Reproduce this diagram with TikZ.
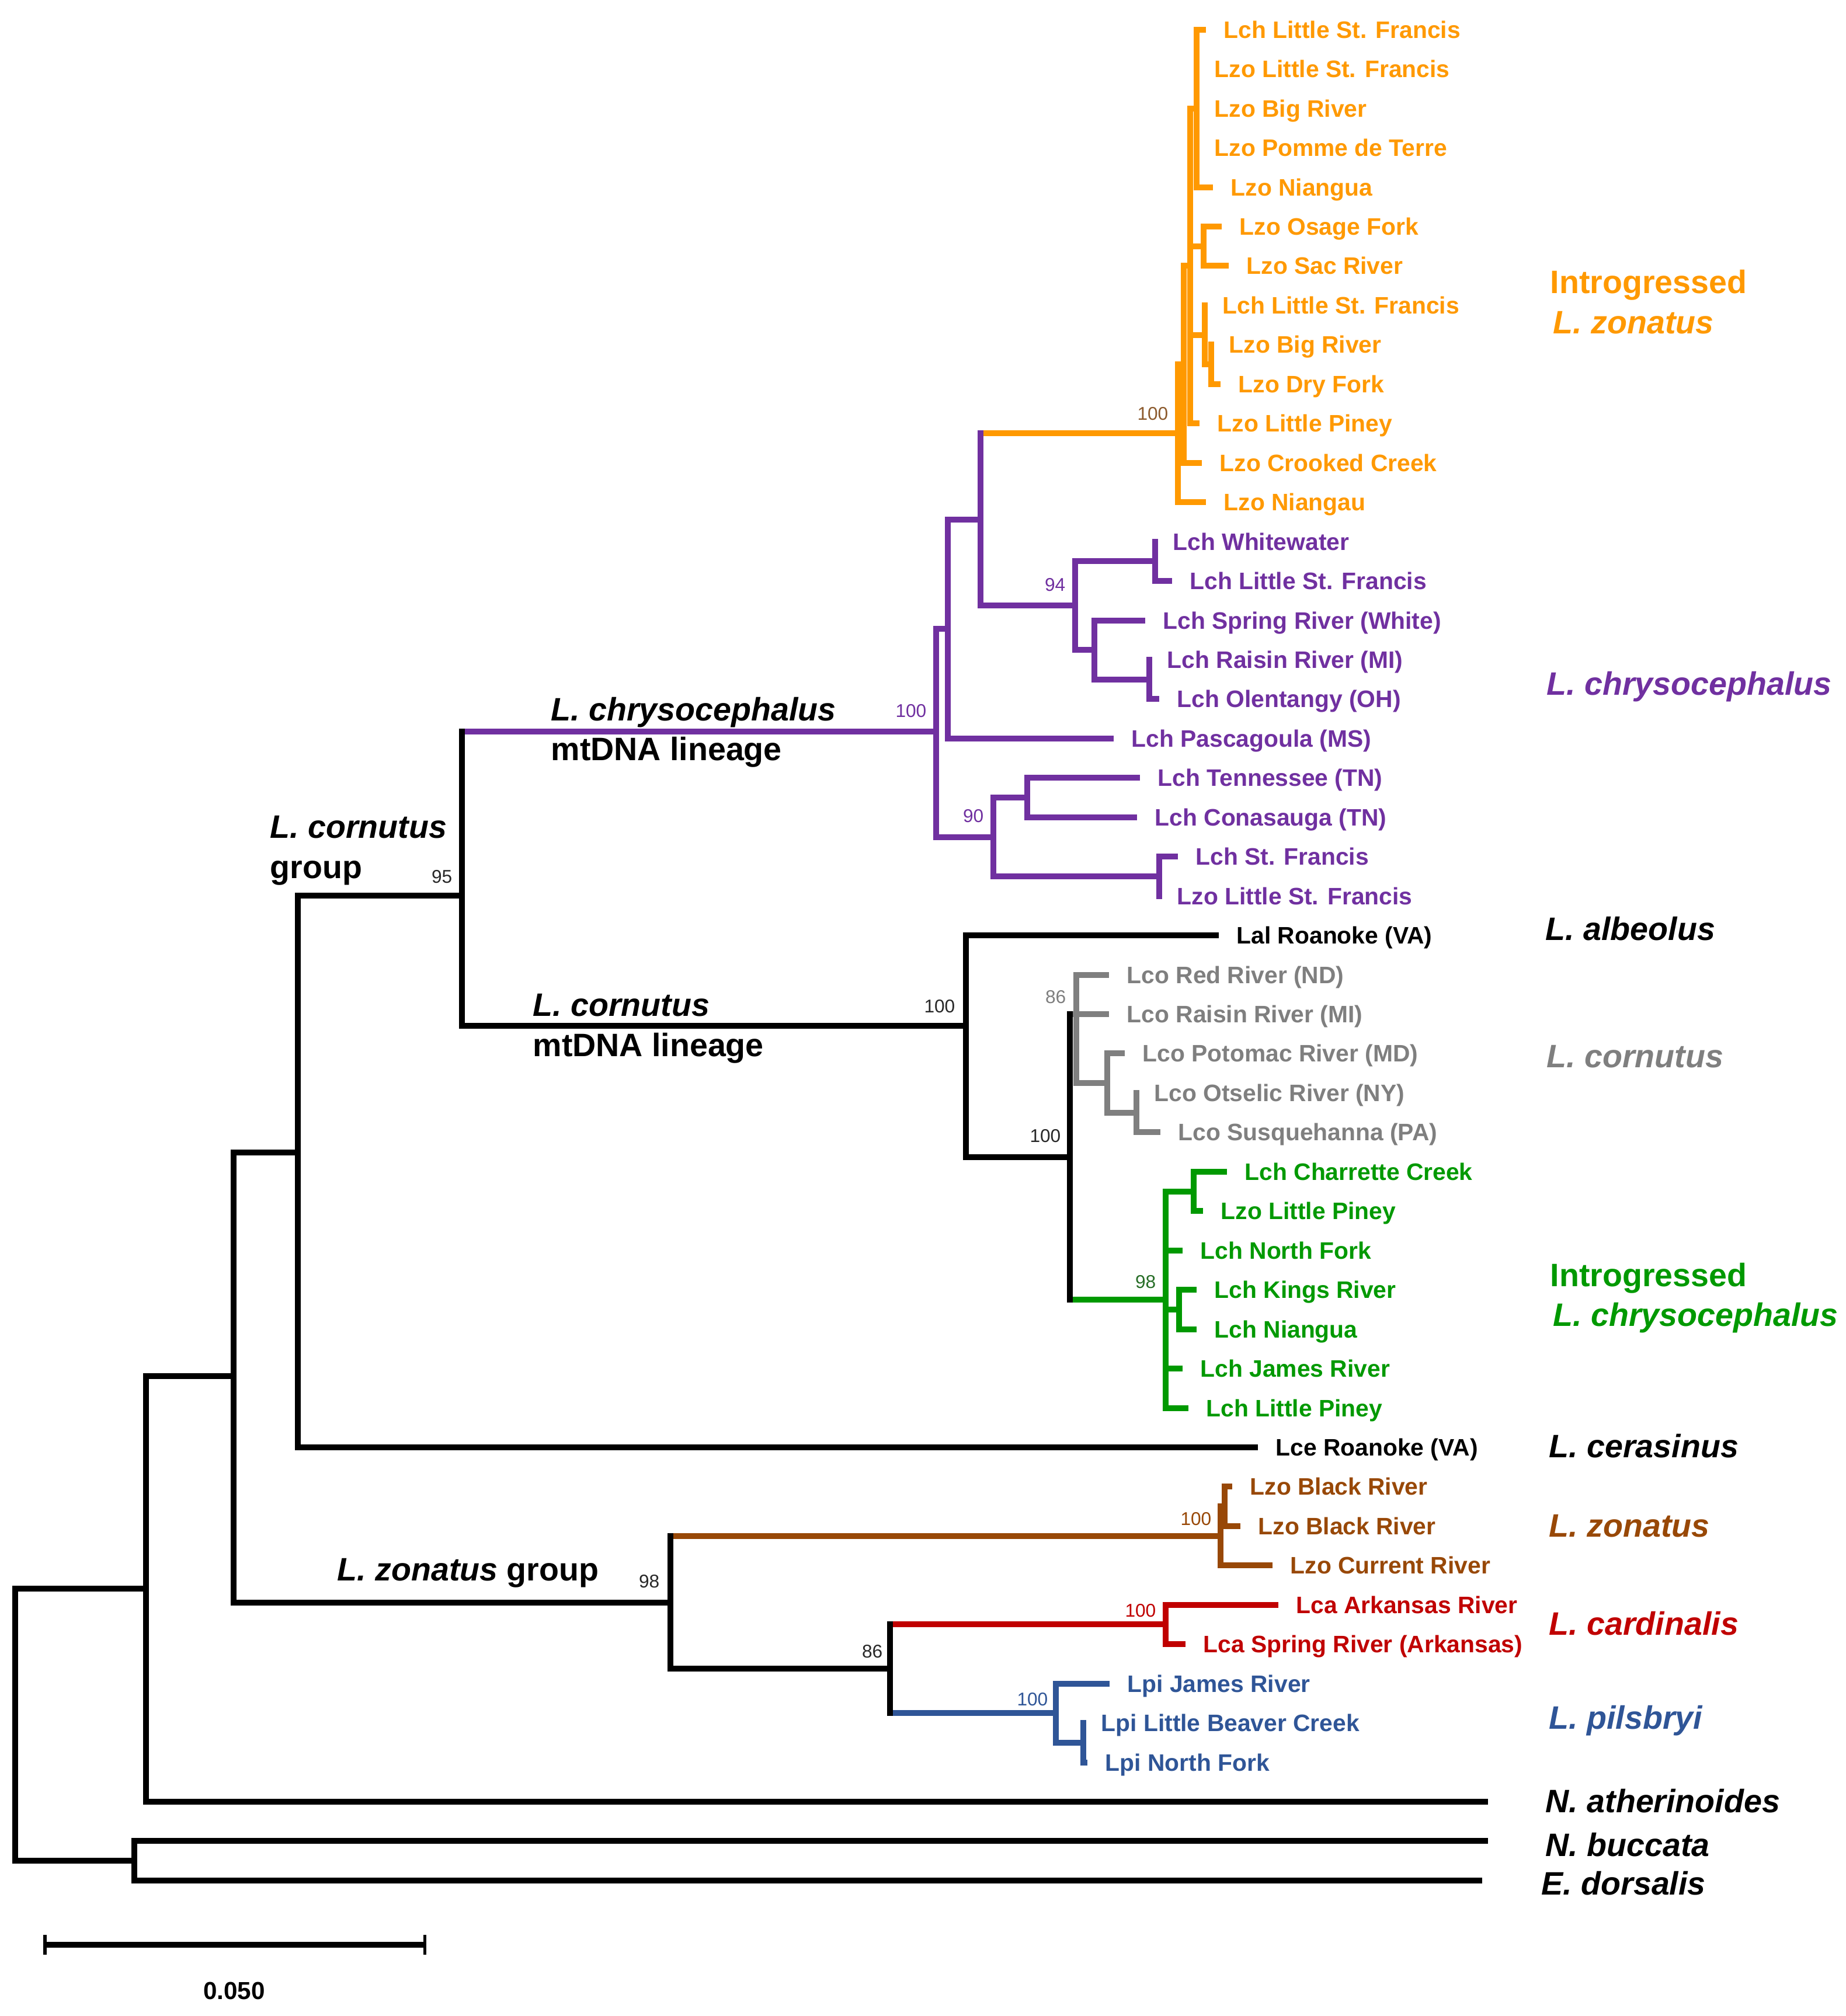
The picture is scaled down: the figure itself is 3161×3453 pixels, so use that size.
\documentclass[tikz,border=0pt]{standalone}
\usepackage{fontspec}
\setmainfont{Liberation Sans}
\definecolor{cOr}{HTML}{FF9900}
\definecolor{cPu}{HTML}{7030A0}
\definecolor{cGy}{HTML}{7F7F7F}
\definecolor{cGn}{HTML}{009900}
\definecolor{cBr}{HTML}{984807}
\definecolor{cRd}{HTML}{C00000}
\definecolor{cBl}{HTML}{2F5597}
\definecolor{cOrSup}{RGB}{140,90,45}
\definecolor{cSup}{RGB}{40,40,40}
\definecolor{cGnSup}{RGB}{40,110,40}
\newcommand\tipfont{\fontsize{11.6}{13}\selectfont\bfseries}
\newcommand\bigfont{\fontsize{15.8}{19}\selectfont\bfseries}
\newcommand\supfont{\fontsize{9}{10}\selectfont}
\newcommand\stem[3]{\draw[hbranch,#1] (#2 |- #3) -- (#3);}
\newcommand\vbar[4]{\draw[vbranch,#1] (#2 |- #3) -- (#2 |- #4);}
\begin{document}
\begin{tikzpicture}[x=0.01cm,y=-0.01cm,
  hbranch/.style={line width=1mm},
  vbranch/.style={line width=1mm,line cap=rect},
  tiplab/.style={anchor=base west,inner sep=0pt,font=\tipfont},
  biglab/.style={anchor=base west,inner sep=0pt,font=\bigfont},
  suplab/.style={anchor=east,inner sep=0pt,font=\supfont}]
\fill[white] (0,0) rectangle (3161,3453);
% ---------- orange clade ----------
\coordinate (O) at (2017,742);
\coordinate (O1) at (2027,624);
\coordinate (O2) at (2038,455.4);
\coordinate (A1) at (2049,185.6);
\coordinate (B1) at (2061,421.7);
\coordinate (C1) at (2063,573.5);
\coordinate (C2) at (2074,624);
\coordinate (t0) at (2065,50.7);
\coordinate (t1) at (2049,118.2);
\coordinate (t2) at (2049,185.6);
\coordinate (t3) at (2049,253.1);
\coordinate (t4) at (2077,320.5);
\coordinate (t5) at (2092,388.0);
\coordinate (t6) at (2104,455.4);
\coordinate (t7) at (2063,522.9);
\coordinate (t8) at (2074,590.3);
\coordinate (t9) at (2090,657.8);
\coordinate (t10) at (2054,725.2);
\coordinate (t11) at (2058,792.7);
\coordinate (t12) at (2065,860.1);
% ---------- purple clade ----------
\coordinate (P) at (1603,1253);
\coordinate (P1) at (1623,1077.2);
\coordinate (Q) at (1679,889.6);
\coordinate (N94) at (1841,1037.2);
\coordinate (W) at (1978,961.3);
\coordinate (SR) at (1874,1113.1);
\coordinate (RO) at (1968,1163.7);
\coordinate (P90) at (1701,1433.5);
\coordinate (TC) at (1759,1366);
\coordinate (SF) at (1985,1500.9);
\coordinate (t13) at (1978,927.6);
\coordinate (t14) at (2007,995.0);
\coordinate (t15) at (1961,1062.5);
\coordinate (t16) at (1968,1129.9);
\coordinate (t17) at (1985,1197.4);
\coordinate (t18) at (1907,1264.8);
\coordinate (t19) at (1952,1332.3);
\coordinate (t20) at (1947,1399.7);
\coordinate (t21) at (2017,1467.2);
\coordinate (t22) at (1985,1534.6);
% ---------- cornutus lineage ----------
\coordinate (E) at (791,1534);
\coordinate (K) at (1654,1757);
\coordinate (N100) at (1832,1981.5);
\coordinate (G86) at (1843,1737);
\coordinate (G2) at (1896,1855);
\coordinate (OS) at (1946,1905.6);
\coordinate (GR) at (1996,2226);
\coordinate (CL) at (2044,2040.5);
\coordinate (KN) at (2019,2242.9);
\coordinate (t23) at (2087,1602.1);
\coordinate (t24) at (1899,1669.5);
\coordinate (t25) at (1899,1737.0);
\coordinate (t26) at (1926,1804.4);
\coordinate (t27) at (1946,1871.9);
\coordinate (t28) at (1987,1939.3);
\coordinate (t29) at (2101,2006.8);
\coordinate (t30) at (2060,2074.2);
\coordinate (t31) at (2025,2141.7);
\coordinate (t32) at (2049,2209.1);
\coordinate (t33) at (2049,2276.6);
\coordinate (t34) at (2025,2344.0);
\coordinate (t35) at (2035,2411.5);
% ---------- backbone and zonatus group ----------
\coordinate (Root) at (26,2954);
\coordinate (A) at (250,2721);
\coordinate (B) at (230,3187);
\coordinate (C) at (400,2357);
\coordinate (D) at (510,1974);
\coordinate (Z) at (1148,2744.5);
\coordinate (BR) at (2090,2630.8);
\coordinate (BB) at (2097,2580.1);
\coordinate (Z86) at (1524,2858.3);
\coordinate (RD) at (1996,2782.4);
\coordinate (BL) at (1808,2934.2);
\coordinate (LN) at (1855,2984.8);
\coordinate (t36) at (2154,2478.9);
\coordinate (t37) at (2110,2546.4);
\coordinate (t38) at (2124,2613.8);
\coordinate (t39) at (2179,2681.3);
\coordinate (t40) at (2189,2748.7);
\coordinate (t41) at (2030,2816.2);
\coordinate (t42) at (1900,2883.6);
\coordinate (t43) at (1855,2951.1);
\coordinate (t44) at (1862,3018.5);
\coordinate (t45) at (2548,3086.0);
\coordinate (t46) at (2548,3153.4);
\coordinate (t47) at (2538,3220.9);
% ================= horizontal branches =================
\stem{cOr}{Q}{O}
\stem{cOr}{O}{O1} \stem{cOr}{O}{t12}
\stem{cOr}{O1}{O2} \stem{cOr}{O1}{t11}
\stem{cOr}{O2}{A1} \stem{cOr}{O2}{B1} \stem{cOr}{O2}{C1} \stem{cOr}{O2}{t10}
\stem{cOr}{A1}{t0} \stem{cOr}{A1}{t4}
\stem{cOr}{B1}{t5} \stem{cOr}{B1}{t6}
\stem{cOr}{C1}{C2} \stem{cOr}{C2}{t9}
\stem{cPu}{E}{P}
\stem{cPu}{P}{P1} \stem{cPu}{P}{P90}
\stem{cPu}{P1}{Q} \stem{cPu}{P1}{t18}
\stem{cPu}{Q}{N94}
\stem{cPu}{N94}{W} \stem{cPu}{N94}{SR}
\stem{cPu}{W}{t14}
\stem{cPu}{SR}{t15} \stem{cPu}{SR}{RO} \stem{cPu}{RO}{t17}
\stem{cPu}{P90}{TC} \stem{cPu}{P90}{SF}
\stem{cPu}{TC}{t19} \stem{cPu}{TC}{t20}
\stem{cPu}{SF}{t21}
\stem{black}{E}{K}
\stem{black}{K}{t23} \stem{black}{K}{N100}
\stem{cGy}{N100}{G86} \stem{cGn}{N100}{GR}
\stem{cGy}{G86}{t24} \stem{cGy}{G86}{t25} \stem{cGy}{G86}{G2}
\stem{cGy}{G2}{t26} \stem{cGy}{G2}{OS} \stem{cGy}{OS}{t28}
\stem{cGn}{GR}{CL} \stem{cGn}{GR}{t31} \stem{cGn}{GR}{KN}
\stem{cGn}{GR}{t34} \stem{cGn}{GR}{t35}
\stem{cGn}{CL}{t29} \stem{cGn}{CL}{t30}
\stem{cGn}{KN}{t32} \stem{cGn}{KN}{t33}
\stem{black}{D}{E} \stem{black}{D}{t36}
\stem{black}{C}{D} \stem{black}{C}{Z}
\stem{black}{A}{C} \stem{black}{A}{t45}
\stem{black}{Root}{A} \stem{black}{Root}{B}
\stem{black}{B}{t46} \stem{black}{B}{t47}
\stem{cBr}{Z}{BR}
\stem{cBr}{BR}{BB} \stem{cBr}{BR}{t39}
\stem{cBr}{BB}{t37} \stem{cBr}{BB}{t38}
\stem{black}{Z}{Z86}
\stem{cRd}{Z86}{RD} \stem{cRd}{RD}{t40} \stem{cRd}{RD}{t41}
\stem{cBl}{Z86}{BL} \stem{cBl}{BL}{t42} \stem{cBl}{BL}{LN} \stem{cBl}{LN}{t44}
% ================= vertical branches =================
\vbar{cOr}{O}{O1}{t12}
\vbar{cOr}{O1}{O2}{t11}
\vbar{cOr}{O2}{A1}{t10}
\vbar{cOr}{A1}{t0}{t4}
\vbar{cOr}{B1}{t5}{t6}
\vbar{cOr}{C1}{t7}{C2}
\vbar{cOr}{C2}{t8}{t9}
\vbar{cPu}{P}{P1}{P90}
\vbar{cPu}{P1}{Q}{t18}
\vbar{cPu}{Q}{O}{N94}
\vbar{cPu}{N94}{W}{SR}
\vbar{cPu}{W}{t13}{t14}
\vbar{cPu}{SR}{t15}{RO}
\vbar{cPu}{RO}{t16}{t17}
\vbar{cPu}{P90}{TC}{SF}
\vbar{cPu}{TC}{t19}{t20}
\vbar{cPu}{SF}{t21}{t22}
\vbar{cGy}{G86}{t24}{G2}
\vbar{cGy}{G2}{t26}{OS}
\vbar{cGy}{OS}{t27}{t28}
\vbar{black}{N100}{G86}{GR}
\vbar{black}{K}{t23}{N100}
\vbar{black}{E}{P}{K}
\vbar{cGn}{GR}{CL}{t35}
\vbar{cGn}{CL}{t29}{t30}
\vbar{cGn}{KN}{t32}{t33}
\vbar{black}{D}{E}{t36}
\vbar{black}{C}{D}{Z}
\vbar{black}{A}{C}{t45}
\vbar{black}{Root}{A}{B}
\vbar{black}{B}{t46}{t47}
\vbar{black}{Z}{BR}{Z86}
\vbar{cBr}{BR}{BB}{t39}
\vbar{cBr}{BB}{t37}{t38}
\vbar{black}{Z86}{RD}{BL}
\vbar{cRd}{RD}{t40}{t41}
\vbar{cBl}{BL}{t42}{LN}
\vbar{cBl}{LN}{t43}{t44}
% ================= tip labels =================
\begin{scope}[cOr]
\node[tiplab] (l0) at ([shift={(30,14.5)}]t0) {Lch Little St. Francis};
\node[tiplab] (l1) at ([shift={(30,14.5)}]t1) {Lzo Little St. Francis};
\node[tiplab] (l2) at ([shift={(30,14.5)}]t2) {Lzo Big River};
\node[tiplab] (l3) at ([shift={(30,14.5)}]t3) {Lzo Pomme de Terre};
\node[tiplab] (l4) at ([shift={(30,14.5)}]t4) {Lzo Niangua};
\node[tiplab] (l5) at ([shift={(30,14.5)}]t5) {Lzo Osage Fork};
\node[tiplab] (l6) at ([shift={(30,14.5)}]t6) {Lzo Sac River};
\node[tiplab] (l7) at ([shift={(30,14.5)}]t7) {Lch Little St. Francis};
\node[tiplab] (l8) at ([shift={(30,14.5)}]t8) {Lzo Big River};
\node[tiplab] (l9) at ([shift={(30,14.5)}]t9) {Lzo Dry Fork};
\node[tiplab] (l10) at ([shift={(30,14.5)}]t10) {Lzo Little Piney};
\node[tiplab] (l11) at ([shift={(30,14.5)}]t11) {Lzo Crooked Creek};
\node[tiplab] (l12) at ([shift={(30,14.5)}]t12) {Lzo Niangau};
\end{scope}
\begin{scope}[cPu]
\node[tiplab] (l13) at ([shift={(30,14.5)}]t13) {Lch Whitewater};
\node[tiplab] (l14) at ([shift={(30,14.5)}]t14) {Lch Little St. Francis};
\node[tiplab] (l15) at ([shift={(30,14.5)}]t15) {Lch Spring River (White)};
\node[tiplab] (l16) at ([shift={(30,14.5)}]t16) {Lch Raisin River (MI)};
\node[tiplab] (l17) at ([shift={(30,14.5)}]t17) {Lch Olentangy (OH)};
\node[tiplab] (l18) at ([shift={(30,14.5)}]t18) {Lch Pascagoula (MS)};
\node[tiplab] (l19) at ([shift={(30,14.5)}]t19) {Lch Tennessee (TN)};
\node[tiplab] (l20) at ([shift={(30,14.5)}]t20) {Lch Conasauga (TN)};
\node[tiplab] (l21) at ([shift={(30,14.5)}]t21) {Lch St. Francis};
\node[tiplab] (l22) at ([shift={(30,14.5)}]t22) {Lzo Little St. Francis};
\end{scope}
\node[tiplab] (l23) at ([shift={(30,14.5)}]t23) {Lal Roanoke (VA)};
\begin{scope}[cGy]
\node[tiplab] (l24) at ([shift={(30,14.5)}]t24) {Lco Red River (ND)};
\node[tiplab] (l25) at ([shift={(30,14.5)}]t25) {Lco Raisin River (MI)};
\node[tiplab] (l26) at ([shift={(30,14.5)}]t26) {Lco Potomac River (MD)};
\node[tiplab] (l27) at ([shift={(30,14.5)}]t27) {Lco Otselic River (NY)};
\node[tiplab] (l28) at ([shift={(30,14.5)}]t28) {Lco Susquehanna (PA)};
\end{scope}
\begin{scope}[cGn]
\node[tiplab] (l29) at ([shift={(30,14.5)}]t29) {Lch Charrette Creek};
\node[tiplab] (l30) at ([shift={(30,14.5)}]t30) {Lzo Little Piney};
\node[tiplab] (l31) at ([shift={(30,14.5)}]t31) {Lch North Fork};
\node[tiplab] (l32) at ([shift={(30,14.5)}]t32) {Lch Kings River};
\node[tiplab] (l33) at ([shift={(30,14.5)}]t33) {Lch Niangua};
\node[tiplab] (l34) at ([shift={(30,14.5)}]t34) {Lch James River};
\node[tiplab] (l35) at ([shift={(30,14.5)}]t35) {Lch Little Piney};
\end{scope}
\node[tiplab] (l36) at ([shift={(30,14.5)}]t36) {Lce Roanoke (VA)};
\begin{scope}[cBr]
\node[tiplab] (l37) at ([shift={(30,14.5)}]t37) {Lzo Black River};
\node[tiplab] (l38) at ([shift={(30,14.5)}]t38) {Lzo Black River};
\node[tiplab] (l39) at ([shift={(30,14.5)}]t39) {Lzo Current River};
\end{scope}
\begin{scope}[cRd]
\node[tiplab] (l40) at ([shift={(30,14.5)}]t40) {Lca Arkansas River};
\node[tiplab] (l41) at ([shift={(30,14.5)}]t41) {Lca Spring River (Arkansas)};
\end{scope}
\begin{scope}[cBl]
\node[tiplab] (l42) at ([shift={(30,14.5)}]t42) {Lpi James River};
\node[tiplab] (l43) at ([shift={(30,14.5)}]t43) {Lpi Little Beaver Creek};
\node[tiplab] (l44) at ([shift={(30,14.5)}]t44) {Lpi North Fork};
\end{scope}
% ================= support values =================
\node[suplab,cOrSup] (s1) at (2001,709) {100};
\node[suplab,cPu] (s2) at (1825,1002) {94};
\node[suplab,cPu] (s3) at (1587,1218) {100};
\node[suplab,cPu] (s4) at (1685,1398) {90};
\node[suplab,cSup] (s5) at (775,1502) {95};
\node[suplab,cSup] (s6) at (1636,1724) {100};
\node[suplab,cGy] (s7) at (1826,1708) {86};
\node[suplab,cSup] (s8) at (1817,1946) {100};
\node[suplab,cGnSup] (s9) at (1980,2196) {98};
\node[suplab,cBr] (s10) at (2075,2602) {100};
\node[suplab,cSup] (s11) at (1130,2709) {98};
\node[suplab,cRd] (s12) at (1980,2759) {100};
\node[suplab,cSup] (s13) at (1512,2829) {86};
\node[suplab,cBl] (s14) at (1795,2911) {100};
% ================= lineage labels =================
\node[biglab] (g1a) at (943,1234) {\textit{L. chrysocephalus}};
\node[biglab] (g1b) at (943,1302) {mtDNA lineage};
\node[biglab] (g2a) at (912,1740) {\textit{L. cornutus}};
\node[biglab] (g2b) at (912,1809) {mtDNA lineage};
\node[biglab] (g3a) at (462,1435) {\textit{L. cornutus}};
\node[biglab] (g3b) at (462,1504) {group};
\node[biglab] (g4) at (577,2707) {\textit{L. zonatus} group};
% ================= species labels (right) =================
\node[biglab,cOr] (r1a) at (2654,502) {Introgressed};
\node[biglab,cOr] (r1b) at (2659,571) {\textit{L. zonatus}};
\node[biglab,cPu] (r2) at (2648,1190) {\textit{L. chrysocephalus}};
\node[biglab] (r3) at (2646,1610) {\textit{L. albeolus}};
\node[biglab,cGy] (r4) at (2648,1828) {\textit{L. cornutus}};
\node[biglab,cGn] (r5a) at (2654,2203) {Introgressed};
\node[biglab,cGn] (r5b) at (2659,2271) {\textit{L. chrysocephalus}};
\node[biglab] (r6) at (2652,2496) {\textit{L. cerasinus}};
\node[biglab,cBr] (r7) at (2652,2632) {\textit{L. zonatus}};
\node[biglab,cRd] (r8) at (2652,2800) {\textit{L. cardinalis}};
\node[biglab,cBl] (r9) at (2652,2961) {\textit{L. pilsbryi}};
\node[biglab] (r10) at (2646,3104) {\textit{N. atherinoides}};
\node[biglab] (r11) at (2646,3179) {\textit{N. buccata}};
\node[biglab] (r12) at (2639,3245) {\textit{E. dorsalis}};
% ================= scale bar =================
\coordinate (sb1) at (77,3331);
\coordinate (sb2) at (727,3331);
\draw[line width=1mm] (sb1) -- (sb2);
\draw[line width=0.5mm] ([yshift=-1.7mm]sb1) -- ([yshift=1.7mm]sb1);
\draw[line width=0.5mm] ([yshift=-1.7mm]sb2) -- ([yshift=1.7mm]sb2);
\node[font=\fontsize{12}{14}\selectfont\bfseries,inner sep=0pt] (sbl) at (401,3410) {0.050};
\end{tikzpicture}
\end{document}
